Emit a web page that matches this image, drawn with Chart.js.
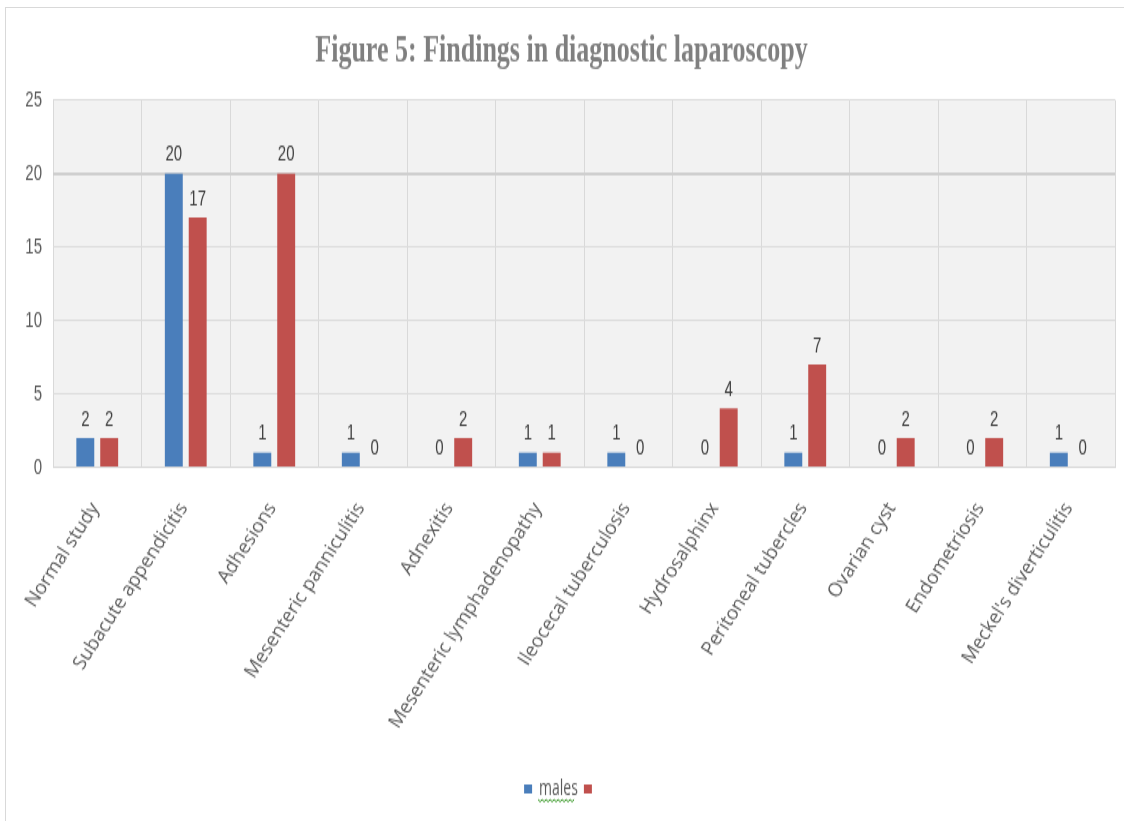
<!DOCTYPE html>
<html>
<head>
<meta charset="utf-8">
<title>Findings in diagnostic laparoscopy</title>
<script src="https://cdn.jsdelivr.net/npm/chart.js@4/dist/chart.umd.min.js"></script>
<style>
  html, body { margin: 0; padding: 0; background: #fff; overflow: hidden; }
  #frame { position: absolute; left: 5px; top: 7px; width: 1130px; height: 830px; border: 1px solid #d9d9d9; }
  /* the figure is stretched tall, like the exported image it comes from */
  #stretch { position: absolute; left: 0; top: 0; width: 1124px; height: 547px; transform: scaleY(1.5); transform-origin: 0 0; }
</style>
</head>
<body>
<div id="frame"></div>
<div id="stretch">
  <canvas id="myChart" width="1124" height="547"></canvas>
</div>
<script>
var findings = [
    'Normal study',
    'Subacute appendicitis',
    'Adhesions',
    'Mesenteric panniculitis',
    'Adnexitis',
    'Mesenteric lymphadenopathy',
    'Ileocecal tuberculosis',
    'Hydrosalphinx',
    'Peritoneal tubercles',
    'Ovarian cyst',
    'Endometriosis',
    "Meckel's diverticulitis"
];
var males = [2, 20, 1, 1, 0, 1, 1, 0, 1, 0, 0, 1];
var females = [2, 17, 20, 0, 2, 1, 0, 4, 7, 2, 2, 0];
var yTicks = [0, 5, 10, 15, 20, 25];

var STRETCH = 1.5;   // same as the scaleY on #stretch
var numFont = '"Liberation Sans", Arial, sans-serif';

// grey plot area behind the bars
var plotBackground = {
    id: 'plotBackground',
    beforeDraw: function (chart) {
        var a = chart.chartArea;
        var c = chart.ctx;
        c.save();
        c.fillStyle = '#f2f2f2';
        c.fillRect(a.left, a.top, a.right - a.left, a.bottom - a.top);
        c.restore();
    }
};

// value printed above every bar, zeros included
var barValues = {
    id: 'barValues',
    afterDatasetsDraw: function (chart) {
        var c = chart.ctx;
        c.save();
        c.font = '15px ' + numFont;
        c.fillStyle = '#404040';
        c.textAlign = 'center';
        c.textBaseline = 'bottom';
        chart.data.datasets.forEach(function (ds, i) {
            chart.getDatasetMeta(i).data.forEach(function (bar, j) {
                c.fillText(String(ds.data[j]), bar.x, bar.y - 5);
            });
        });
        c.restore();
    }
};

// category names at 57deg, undoing the vertical stretch so glyphs stay upright
var slantedLabels = {
    id: 'slantedLabels',
    afterDraw: function (chart) {
        var s = chart.scales.x;
        var c = chart.ctx;
        c.save();
        c.font = '19px "Open Sans", sans-serif';
        c.fillStyle = '#595959';
        c.textAlign = 'right';
        c.textBaseline = 'middle';
        s.ticks.forEach(function (t, i) {
            c.save();
            c.translate(s.getPixelForTick(i) - 2, s.top + 25);
            c.scale(1, 1 / STRETCH);
            c.rotate(-57 * Math.PI / 180);
            c.fillText(s.getLabelForValue(t.value), 0, 0);
            c.restore();
        });
        c.restore();
    }
};

// spell-check squiggle under the legend text
var squiggle = {
    id: 'squiggle',
    afterDraw: function (chart) {
        var box = chart.legend.legendHitBoxes[0];
        if (!box) return;
        var c = chart.ctx;
        var x0 = box.left + 14, x1 = box.left + box.width - 2, y = box.top + box.height;
        c.save();
        c.strokeStyle = '#3c9a2a';
        c.lineWidth = 1;
        c.beginPath();
        c.moveTo(x0, y);
        for (var x = x0, k = 0; x <= x1; x += 2, k++) {
            c.lineTo(x, y + (k % 2 ? 1.5 : 0));
        }
        c.stroke();
        c.restore();
    }
};

var ctx = document.getElementById('myChart').getContext('2d');
var myBarChart = new Chart(ctx, {
    type: 'bar',
    data: {
        labels: findings,
        datasets: [{
            label: 'males',
            data: males,
            backgroundColor: '#4a7ebb'
        }, {
            label: '',
            data: females,
            backgroundColor: '#c0504d'
        }]
    },
    options: {
        responsive: false,
        animation: false,
        categoryPercentage: 0.54,
        barPercentage: 0.75,
        layout: { padding: { left: 8, right: 9, top: 0, bottom: 4 } },
        plugins: {
            title: {
                display: true,
                text: 'Figure 5: Findings in diagnostic laparoscopy',
                color: '#7f7f7f',
                font: { family: '"Liberation Serif", serif', size: 26, weight: 'bold' },
                padding: { top: 19, bottom: 16.5 }
            },
            legend: {
                position: 'bottom',
                labels: {
                    boxWidth: 8,
                    boxHeight: 6,
                    padding: 6,
                    color: '#595959',
                    font: { family: '"Open Sans", sans-serif', size: 14 }
                }
            },
            tooltip: { enabled: false }
        },
        scales: {
            x: {
                grid: { offset: true, color: '#d9d9d9', drawTicks: false },
                border: { color: '#d9d9d9' },
                ticks: { display: false },
                afterFit: function (scale) { scale.height = 201.5; }
            },
            y: {
                min: 0,
                max: 25,
                afterBuildTicks: function (scale) {
                    scale.ticks = yTicks.map(function (v) { return { value: v }; });
                },
                grid: {
                    color: function (c) { return c.tick && c.tick.value === 20 ? '#cfcfcf' : '#dcdcdc'; },
                    lineWidth: function (c) { return c.tick && c.tick.value === 20 ? 2 : 1; },
                    drawTicks: false
                },
                border: { display: false },
                ticks: {
                    padding: 11,
                    color: '#595959',
                    font: { family: numFont, size: 15 }
                },
                afterFit: function (scale) { scale.width = 45; }
            }
        }
    },
    plugins: [plotBackground, barValues, slantedLabels, squiggle]
});
</script>
</body>
</html>
